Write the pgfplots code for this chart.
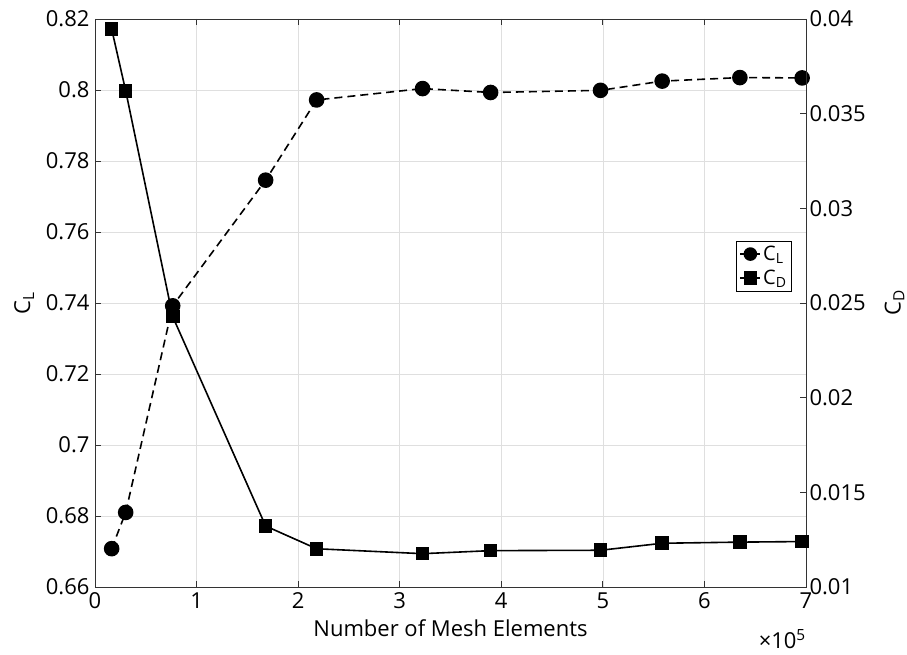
\documentclass[border=0pt]{standalone}
\usepackage{pgfplots}
\pgfplotsset{compat=1.18}
\usepackage{fontspec}
\setmainfont{Open Sans}
\begin{document}
\begin{tikzpicture}
\pgfplotsset{
  every axis/.append style={font=\fontsize{22}{26}\selectfont},
  every tick label/.append style={font=\fontsize{22}{26}\selectfont},
  /pgf/number format/assume math mode=true,
  /pgf/number format/fixed,
  /pgf/number format/precision=3,
}
\begin{axis}[
  at={(95pt,68pt)}, anchor=south west,
  scale only axis, width=711pt, height=568pt,
  xmin=0, xmax=7, ymin=0.66, ymax=0.82,
  xtick={0,1,2,3,4,5,6,7},
  ytick={0.66,0.68,0.7,0.72,0.74,0.76,0.78,0.8,0.82},
  scaled ticks=false,
  ytick pos=left,
  tick align=inside,
  major tick length=6pt,
  grid=major,
  major grid style={gray!25, line width=0.6pt},
  axis line style={line width=0.8pt, black!80},
  every tick/.style={black!80, line width=0.8pt},
  xticklabel style={yshift=-2pt},
  yticklabel style={xshift=-2pt},
  xlabel={Number of Mesh Elements},
  ylabel={C\textsubscript{L}},
  xlabel style={yshift=-4pt},
  ylabel style={yshift=5pt},
  clip=false,
]
\addplot[black, line width=1.6pt, dash pattern=on 8pt off 5pt, mark=*, mark size=7pt, mark options={solid}]
  coordinates {
  (0.164,0.6708) (0.302,0.6810) (0.765,0.7392) (1.680,0.7746) (2.182,0.7972)
  (3.225,0.8004) (3.895,0.7993) (4.977,0.7999) (5.584,0.8025) (6.349,0.8035) (6.962,0.8034)
  };
\node[anchor=east, inner sep=0pt] at (rel axis cs:1,0) [yshift=-52pt] {×10\textsuperscript{5}};
\end{axis}
\begin{axis}[
  at={(95pt,68pt)}, anchor=south west,
  scale only axis, width=711pt, height=568pt,
  xmin=0, xmax=7, ymin=0.01, ymax=0.04,
  axis x line=none,
  axis y line*=right,
  scaled ticks=false,
  ytick={0.01,0.015,0.02,0.025,0.03,0.035,0.04},
  tick align=inside,
  major tick length=6pt,
  axis line style={line width=0.8pt, black!80},
  every tick/.style={black!80, line width=0.8pt},
  ylabel={C\textsubscript{D}},
  ylabel style={yshift=-12pt},
  legend style={at={(0.98,0.565)}, anchor=east, draw=black, line width=0.6pt,
    font=\fontsize{20}{23}\selectfont, inner sep=3pt, row sep=4pt},
  legend cell align=left,
  legend image code/.code={
    \draw[#1, solid] (0pt,0pt) -- (20pt,0pt);
    \draw[#1, solid] plot[mark size=6pt] coordinates {(10pt,0pt)};
  },
]
\addlegendimage{black, line width=1.6pt, mark=*}
\addlegendentry{C\textsubscript{L}}
\addplot[black, line width=1.6pt, mark=square*, mark size=6pt]
  coordinates {
  (0.164,0.03947) (0.302,0.03621) (0.765,0.02428) (1.680,0.01322) (2.182,0.01202)
  (3.225,0.01176) (3.895,0.01192) (4.977,0.01194) (5.584,0.01231) (6.349,0.01237) (6.962,0.01240)
  };
\addlegendentry{C\textsubscript{D}}
\end{axis}
\pgfresetboundingbox
\useasboundingbox (0,0) rectangle (907pt,655pt);
\end{tikzpicture}
\end{document}
